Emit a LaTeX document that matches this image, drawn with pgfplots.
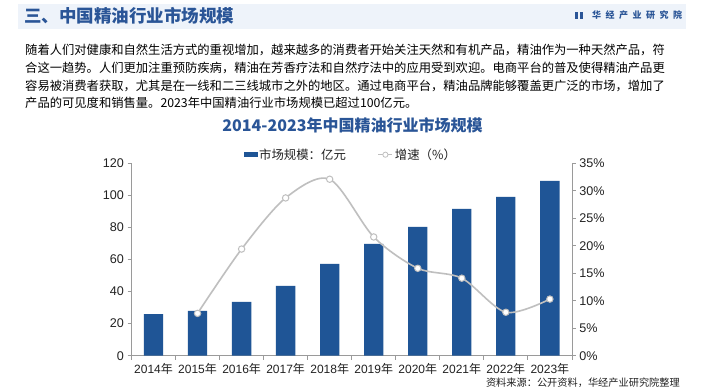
\documentclass[border=0pt]{standalone}
\usepackage{fontspec}
\setmainfont{Liberation Sans}
\newfontfamily\cjk{Noto Sans CJK SC}
\usepackage{pgfplots}
\pgfplotsset{compat=1.18}
\definecolor{barblue}{HTML}{1F5596}
\definecolor{titleblue}{HTML}{2A5597}
\definecolor{bandblue}{HTML}{EEF3FA}
\definecolor{linegray}{HTML}{BFBFBF}
\definecolor{axisgray}{HTML}{9A9A9A}
\definecolor{txt}{HTML}{222222}
\XeTeXinterchartokenstate=1
\XeTeXinterchartoks 1 1 = {\hskip0pt plus 1fil\relax}
\XeTeXinterchartoks 1 2 = {\hskip0pt plus 1fil\relax}
\XeTeXinterchartoks 1 3 = {\hskip0pt plus 1fil\relax}
\XeTeXinterchartoks 2 1 = {\hskip0pt plus 1fil\relax}
\XeTeXinterchartoks 3 1 = {\hskip0pt plus 1fil\relax}
\XeTeXinterchartoks 3 2 = {\hskip0pt plus 1fil\relax}
\XeTeXinterchartoks 3 3 = {\hskip0pt plus 1fil\relax}
\begin{document}
\begin{tikzpicture}
% canvas
\fill[white] (0bp,0bp) rectangle (705bp,392bp);
% header band
\fill[bandblue] (18bp,363bp) rectangle (686bp,388bp);
\node[anchor=west, inner sep=0pt, text=titleblue, font=\cjk\bfseries\fontsize{17.5bp}{20bp}\selectfont] at (24bp,376.5bp) {三、中国精油行业市场规模};
\fill[titleblue] (575bp,372.7bp) rectangle (578bp,380.3bp);
\fill[titleblue] (579.5bp,372.7bp) rectangle (583bp,380.3bp);
\node[anchor=west, inner sep=0pt, text=titleblue, font=\cjk\bfseries\fontsize{9bp}{11bp}\selectfont] at (592bp,376.5bp) {\makebox[90bp][s]{华\hfil 经\hfil 产\hfil 业\hfil 研\hfil 究\hfil 院}};
% paragraph
\begin{scope}[every node/.style={anchor=west, inner sep=0pt, text=black, font=\cjk\fontsize{12.3bp}{15bp}\selectfont}]
\node at (25bp,342bp) {\makebox[661bp][s]{随着人们对健康和自然生活方式的重视增加，越来越多的消费者开始关注天然和有机产品，精油作为一种天然产品，符}};
\node at (25bp,324.3bp) {\makebox[661bp][s]{合这一趋势。人们更加注重预防疾病，精油在芳香疗法和自然疗法中的应用受到欢迎。电商平台的普及使得精油产品更}};
\node at (25bp,306.3bp) {\makebox[661bp][s]{容易被消费者获取，尤其是在一线和二三线城市之外的地区。通过电商平台，精油品牌能够覆盖更广泛的市场，增加了}};
\node at (25bp,288.7bp) {产品的可见度和销售量。2023年中国精油行业市场规模已超过100亿元。};
\end{scope}
% chart title
\node[inner sep=0pt, text=titleblue, font=\cjk\bfseries\fontsize{16bp}{19bp}\selectfont] at (352.5bp,267bp) {2014-2023年中国精油行业市场规模};
% source
\node[anchor=east, inner sep=0pt, text=txt, font=\cjk\fontsize{10.2bp}{12bp}\selectfont] at (680bp,9bp) {资料来源：公开资料，华经产业研究院整理};

\begin{axis}[
  at={(131.5bp,36.3bp)}, anchor=south west, scale only axis,
  width=440.4bp, height=192.4bp,
  xmin=-0.5, xmax=9.5, ymin=0, ymax=120,
  axis y line*=left, axis x line*=bottom,
  axis line style={-, draw=axisgray, line width=0.8bp},
  ytick={0,20,...,120},
  xtick={0,...,9},
  xticklabels={2014{\cjk 年},2015{\cjk 年},2016{\cjk 年},2017{\cjk 年},2018{\cjk 年},2019{\cjk 年},2020{\cjk 年},2021{\cjk 年},2022{\cjk 年},2023{\cjk 年}},
  minor xtick={-0.5,0.5,...,9.5},
  major x tick style={draw=none},
  tick align=outside, major tick length=4bp, minor tick length=4bp,
  every tick/.style={draw=axisgray, line width=0.8bp},
  minor tick style={draw=axisgray, line width=0.8bp},
  y tick label style={font=\fontsize{12.6bp}{14bp}\selectfont, text=txt},
  x tick label style={font=\fontsize{12bp}{14bp}\selectfont, text=txt},
  /pgf/number format/assume math mode=true,
  ybar, bar width=19.3bp,
  clip=false,
]
\addplot[fill=barblue, draw=none] coordinates {
 (0,26.0) (1,27.9) (2,33.5) (3,43.5) (4,57.2) (5,69.7) (6,80.3) (7,91.5) (8,99.0) (9,109.0)};
\end{axis}

\begin{axis}[
  at={(131.5bp,36.3bp)}, anchor=south west, scale only axis,
  width=440.4bp, height=192.4bp,
  xmin=-0.5, xmax=9.5, ymin=0, ymax=35,
  axis y line*=right, axis x line=none,
  axis line style={-, draw=axisgray, line width=0.8bp},
  ytick={0,5,...,35},
  yticklabel={\pgfmathprintnumber{\tick}\%},
  tick align=outside, major tick length=4bp,
  every tick/.style={draw=axisgray, line width=0.8bp},
  y tick label style={font=\fontsize{12.6bp}{14bp}\selectfont, text=txt},
  /pgf/number format/assume math mode=true,
  clip=false,
  legend style={at={(0.498,1.0447)}, anchor=center, draw=none, fill=none,
    font=\cjk\fontsize{12.4bp}{14bp}\selectfont, text=txt, inner sep=0pt,
    /tikz/every even column/.append style={column sep=30bp}},
  legend columns=2,
]
\addlegendimage{legend image code/.code={\fill[barblue] (0bp,-2bp) rectangle (13bp,2bp);}}
\addlegendentry{市场规模：亿元}
\addlegendimage{legend image code/.code={\draw[linegray, line width=1bp] (0bp,0bp) -- (14bp,0bp); \draw[linegray, fill=white, line width=0.8bp] (7bp,0bp) circle (2.6bp);}}
\addlegendentry{增速（\%）}
\addplot[smooth, linegray, line width=1.6bp, mark=*, mark size=3.2bp,
  mark options={fill=white, draw=linegray, line width=1bp}, forget plot] coordinates {
 (1,7.7) (2,19.4) (3,28.7) (4,32.1) (5,21.6) (6,15.9) (7,14.1) (8,7.9) (9,10.3)};
\end{axis}
\end{tikzpicture}
\end{document}
